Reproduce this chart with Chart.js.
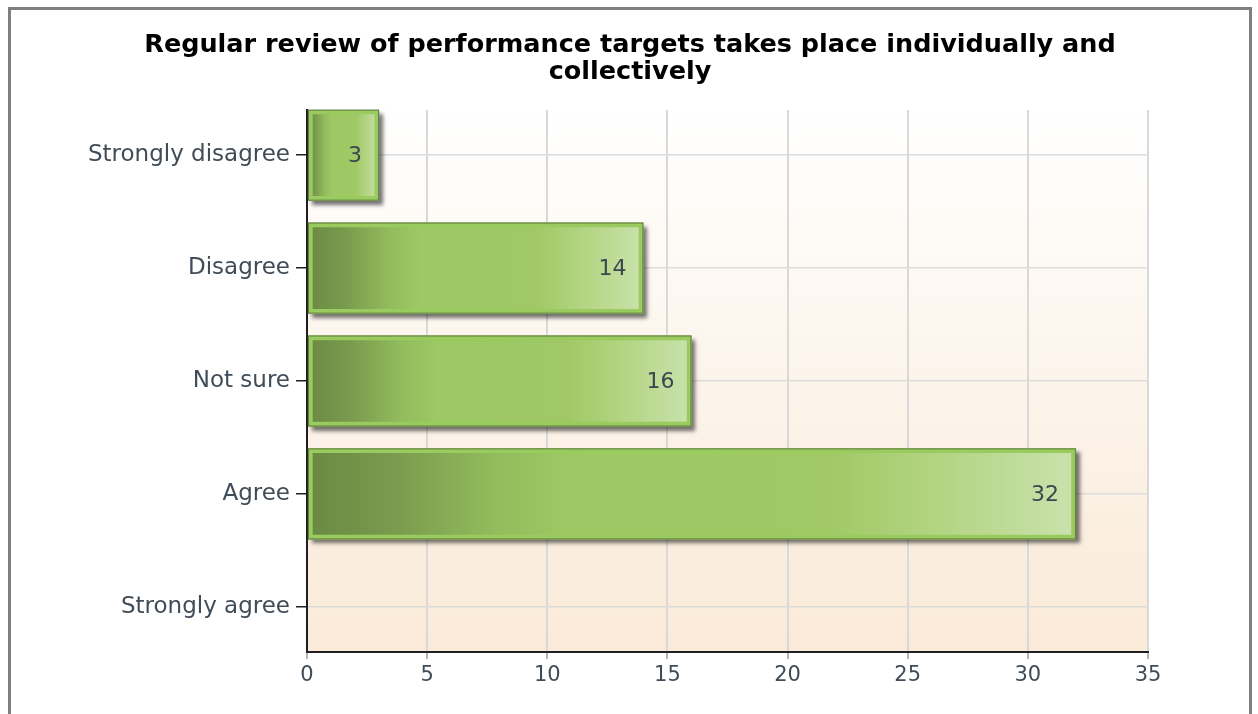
<!DOCTYPE html>
<html>
<head>
<meta charset="utf-8">
<title>Regular review of performance targets</title>
<script src="https://cdn.jsdelivr.net/npm/chart.js@4/dist/chart.umd.min.js"></script>
<style>
  html, body { margin: 0; padding: 0; background: #ffffff; overflow: hidden; }
  #frame {
    position: absolute;
    left: 8px;
    top: 7px;
    width: 1238px;
    height: 730px;
    border: 3px solid #7f7f7f;
    background: #ffffff;
  }
  #chart-wrap { position: relative; width: 1238px; height: 704px; }
</style>
</head>
<body>
<div id="frame">
  <div id="chart-wrap"><canvas id="reviewChart"></canvas></div>
</div>
<script>
// Survey answers, top to bottom
const categories = ['Strongly disagree', 'Disagree', 'Not sure', 'Agree', 'Strongly agree'];
const responses = [3, 14, 16, 32, null];

// Value axis
const xMin = 0;
const xMax = 35;
const xStep = 5;

const titleLines = ['Regular review of performance targets takes place individually and', 'collectively'];

const FONT = "'DejaVu Sans', 'Liberation Sans', Arial, sans-serif";

// Bar fill: dark olive on the left fading to pale green at the end of each bar
function barGradient(context) {
  const chart = context.chart;
  const xs = chart.scales.x;
  const value = context.parsed ? context.parsed.x : null;
  if (!xs || value == null) return '#9dc863';
  const x0 = xs.getPixelForValue(0);
  const x1 = xs.getPixelForValue(value);
  if (!isFinite(x0) || !isFinite(x1) || x1 <= x0) return '#9dc863';
  const g = chart.ctx.createLinearGradient(x0, 0, x1, 0);
  g.addColorStop(0, '#6a8843');
  g.addColorStop(0.12, '#7b9c4e');
  g.addColorStop(0.25, '#93bd5d');
  g.addColorStop(0.34, '#9dc863');
  g.addColorStop(0.68, '#a0c966');
  g.addColorStop(0.82, '#b3d482');
  g.addColorStop(1, '#c9e2ac');
  return g;
}

// Plot background: white at the top, warm peach at the bottom
const plotBackground = {
  id: 'plotBackground',
  beforeDraw(chart) {
    const { ctx, chartArea } = chart;
    if (!chartArea) return;
    const g = ctx.createLinearGradient(0, chartArea.top, 0, chartArea.bottom);
    g.addColorStop(0, '#ffffff');
    g.addColorStop(1, '#faead8');
    ctx.save();
    ctx.fillStyle = g;
    ctx.fillRect(chartArea.left, chartArea.top, chartArea.right - chartArea.left, chartArea.bottom - chartArea.top);
    ctx.restore();
  }
};

// Drop shadows behind the bars, plus thin outline and value labels on top
const barDecor = {
  id: 'barDecor',
  beforeDatasetsDraw(chart) {
    const ctx = chart.ctx;
    const meta = chart.getDatasetMeta(0);
    ctx.save();
    ctx.shadowColor = 'rgba(0, 0, 0, 0.55)';
    ctx.shadowBlur = 4;
    ctx.shadowOffsetX = 4;
    ctx.shadowOffsetY = 4;
    ctx.fillStyle = '#8fb85a';
    meta.data.forEach((bar, i) => {
      if (responses[i] == null) return;
      const { x, y, base, height } = bar.getProps(['x', 'y', 'base', 'height'], true);
      ctx.fillRect(base, y - height / 2, x - base, height);
    });
    ctx.restore();
  },
  afterDatasetsDraw(chart) {
    const ctx = chart.ctx;
    const meta = chart.getDatasetMeta(0);
    ctx.save();
    meta.data.forEach((bar, i) => {
      if (responses[i] == null) return;
      const { x, y, base, height } = bar.getProps(['x', 'y', 'base', 'height'], true);
      ctx.strokeStyle = 'rgba(75, 90, 60, 0.7)';
      ctx.lineWidth = 1;
      ctx.strokeRect(base + 0.5, y - height / 2 + 0.5, x - base - 1, height - 1);

      ctx.fillStyle = '#3a4750';
      ctx.font = '22px ' + FONT;
      ctx.textAlign = 'right';
      ctx.textBaseline = 'middle';
      ctx.fillText(String(responses[i]), x - 17, y + 1);
    });
    ctx.restore();
  }
};

document.addEventListener('DOMContentLoaded', () => {
  const ctx = document.getElementById('reviewChart');

  new Chart(ctx, {
    type: 'bar',
    data: {
      datasets: [{
        label: 'Responses',
        data: responses.map((v, i) => ({ x: v, y: i })),
        backgroundColor: barGradient,
        borderColor: '#9acb5f',
        borderWidth: 5,
        borderSkipped: false,
        barThickness: 91
      }]
    },
    options: {
      indexAxis: 'y',
      responsive: true,
      maintainAspectRatio: false,
      animation: false,
      layout: {
        padding: 0
      },
      scales: {
        x: {
          type: 'linear',
          min: xMin,
          max: xMax,
          ticks: {
            stepSize: xStep,
            color: '#404c58',
            padding: 4,
            font: { family: FONT, size: 21 }
          },
          grid: {
            color: '#d9d9d9',
            lineWidth: 2,
            tickColor: '#b5b5b5',
            tickLength: 7
          },
          border: { color: '#1e1e1e', width: 2 },
          afterFit(scale) { scale.height = 62; }
        },
        y: {
          type: 'linear',
          reverse: true,
          offset: false,
          bounds: 'data',
          min: -0.4,
          max: 4.4,
          afterBuildTicks(scale) {
            scale.ticks = categories.map((c, i) => ({ value: i }));
          },
          ticks: {
            color: '#404c58',
            padding: 6,
            font: { family: FONT, size: 23 },
            callback: (value) => categories[value] ?? ''
          },
          grid: {
            offset: false,
            color: '#dcdcdc',
            lineWidth: 1.5,
            tickColor: '#1e1e1e',
            tickLength: 11
          },
          border: { color: '#1e1e1e', width: 2 },
          afterFit(scale) { scale.width = 296; }
        },
        // empty right-hand gutter so the plot ends where the reference does
        gutter: {
          type: 'linear',
          position: 'right',
          grid: { display: false, drawTicks: false },
          border: { display: false },
          ticks: { display: false },
          afterFit(scale) { scale.width = 101; }
        }
      },
      plugins: {
        legend: { display: false },
        tooltip: { enabled: false },
        title: {
          display: true,
          text: titleLines,
          color: '#000000',
          font: { family: FONT, size: 25.5, weight: 'bold', lineHeight: '27px' },
          padding: { top: 21.5, bottom: 24.5 }
        }
      }
    },
    plugins: [plotBackground, barDecor]
  });
});
</script>
</body>
</html>
